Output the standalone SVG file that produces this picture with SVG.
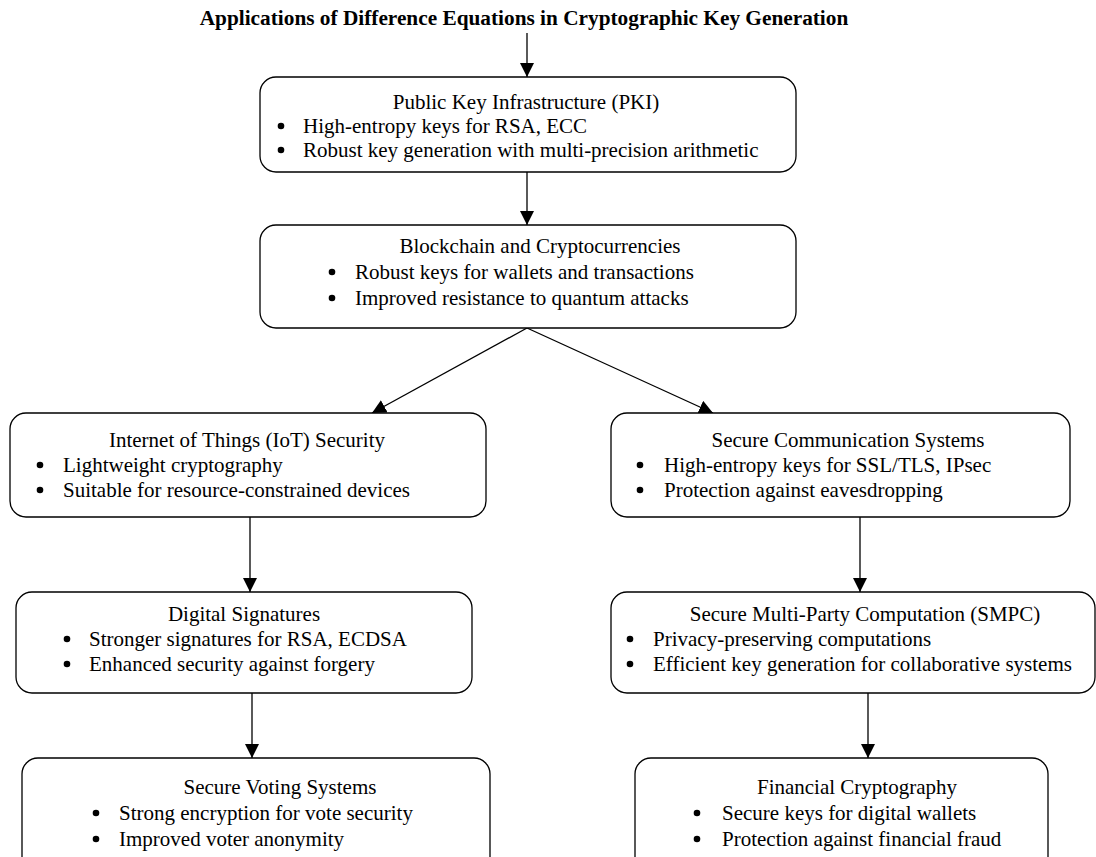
<svg xmlns="http://www.w3.org/2000/svg" width="1096" height="857" viewBox="0 0 1096 857">
<style>
.box{fill:#fff;stroke:#000;stroke-width:1.3}
.t{font-family:"Liberation Serif","Times New Roman",serif;font-size:21px;fill:#000}
.c{text-anchor:middle}
.ttl{font-family:"Liberation Serif","Times New Roman",serif;font-size:21.3px;font-weight:bold;text-anchor:middle;fill:#000}
.ln{stroke:#000;stroke-width:1.3;fill:none;marker-end:url(#ah)}
.b{fill:#000}
</style>
<defs>
<marker id="ah" markerUnits="userSpaceOnUse" markerWidth="15" markerHeight="15" refX="14" refY="7" orient="auto">
<path d="M0,0 L14,7 L0,14 Z" fill="#000"/>
</marker>
</defs>
<rect width="1096" height="857" fill="#fff"/>
<text class="ttl" x="524" y="25">Applications of Difference Equations in Cryptographic Key Generation</text>
<g id="connectors">
<line class="ln" x1="527" y1="33" x2="527" y2="77"/>
<line class="ln" x1="527" y1="172" x2="527" y2="225"/>
<line class="ln" x1="527" y1="328" x2="372" y2="413"/>
<line class="ln" x1="527" y1="328" x2="713" y2="413"/>
<line class="ln" x1="250" y1="517" x2="250" y2="592"/>
<line class="ln" x1="860" y1="517" x2="860" y2="592"/>
<line class="ln" x1="252" y1="693" x2="252" y2="758"/>
<line class="ln" x1="868" y1="693" x2="868" y2="758"/>
</g>
<g id="pki">
<rect class="box" x="260" y="77" width="536" height="95" rx="16"/>
<text class="t c" x="526" y="109">Public Key Infrastructure (PKI)</text>
<circle class="b" cx="281" cy="126" r="3.3"/><text class="t" x="303" y="133">High-entropy keys for RSA, ECC</text>
<circle class="b" cx="281" cy="150" r="3.3"/><text class="t" x="303" y="157">Robust key generation with multi-precision arithmetic</text>
</g>
<g id="blockchain">
<rect class="box" x="260" y="225" width="536" height="103" rx="16"/>
<text class="t c" x="540" y="253">Blockchain and Cryptocurrencies</text>
<circle class="b" cx="332" cy="272" r="3.3"/><text class="t" x="355" y="279">Robust keys for wallets and transactions</text>
<circle class="b" cx="332" cy="298" r="3.3"/><text class="t" x="355" y="305">Improved resistance to quantum attacks</text>
</g>
<g id="iot">
<rect class="box" x="10" y="413" width="476" height="104" rx="16"/>
<text class="t c" x="247" y="447">Internet of Things (IoT) Security</text>
<circle class="b" cx="40" cy="465" r="3.3"/><text class="t" x="63" y="472">Lightweight cryptography</text>
<circle class="b" cx="40" cy="490" r="3.3"/><text class="t" x="63" y="497">Suitable for resource-constrained devices</text>
</g>
<g id="securecomm">
<rect class="box" x="611" y="413" width="459" height="104" rx="16"/>
<text class="t c" x="848" y="447">Secure Communication Systems</text>
<circle class="b" cx="640" cy="465" r="3.3"/><text class="t" x="664" y="472">High-entropy keys for SSL/TLS, IPsec</text>
<circle class="b" cx="640" cy="490" r="3.3"/><text class="t" x="664" y="497">Protection against eavesdropping</text>
</g>
<g id="digsig">
<rect class="box" x="16" y="592" width="456" height="101" rx="16"/>
<text class="t c" x="244" y="621">Digital Signatures</text>
<circle class="b" cx="67" cy="639" r="3.3"/><text class="t" x="89" y="646">Stronger signatures for RSA, ECDSA</text>
<circle class="b" cx="67" cy="664" r="3.3"/><text class="t" x="89" y="671">Enhanced security against forgery</text>
</g>
<g id="smpc">
<rect class="box" x="611" y="592" width="484" height="101" rx="16"/>
<text class="t c" x="865" y="621">Secure Multi-Party Computation (SMPC)</text>
<circle class="b" cx="630" cy="639" r="3.3"/><text class="t" x="653" y="646">Privacy-preserving computations</text>
<circle class="b" cx="630" cy="664" r="3.3"/><text class="t" x="653" y="671">Efficient key generation for collaborative systems</text>
</g>
<g id="voting">
<rect class="box" x="22" y="758" width="468" height="115" rx="16"/>
<text class="t c" x="280" y="794">Secure Voting Systems</text>
<circle class="b" cx="96" cy="813" r="3.3"/><text class="t" x="119" y="820">Strong encryption for vote security</text>
<circle class="b" cx="96" cy="839" r="3.3"/><text class="t" x="119" y="846">Improved voter anonymity</text>
</g>
<g id="financial">
<rect class="box" x="635" y="758" width="413" height="115" rx="16"/>
<text class="t c" x="857" y="794">Financial Cryptography</text>
<circle class="b" cx="697" cy="813" r="3.3"/><text class="t" x="722" y="820">Secure keys for digital wallets</text>
<circle class="b" cx="697" cy="839" r="3.3"/><text class="t" x="722" y="846">Protection against financial fraud</text>
</g>
</svg>
